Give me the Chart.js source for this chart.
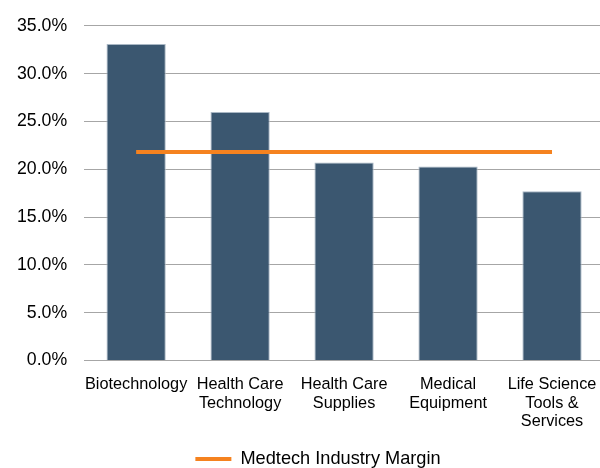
<!DOCTYPE html>
<html>
<head>
<meta charset="utf-8">
<script src="https://cdn.jsdelivr.net/npm/chart.js@4"></script>
<style>
  html, body { margin: 0; padding: 0; background: #fff; overflow: hidden; }
  #wrap { width: 604px; height: 468px; }
</style>
</head>
<body>
<div id="wrap"><canvas id="marginChart" width="604" height="468"></canvas></div>
<script>
const categories = ['Biotechnology', ['Health Care', 'Technology'], ['Health Care', 'Supplies'], ['Medical', 'Equipment'], ['Life Science', 'Tools &', 'Services']];
const sectorMargins = [33.1, 26.0, 20.7, 20.3, 17.7];
const medtechMargin = [21.8, 21.8, 21.8, 21.8, 21.8];
const yTicks = [0, 5, 10, 15, 20, 25, 30, 35];

// nudge the legend a bit right, like the original
const legendShift = {
  id: 'legendShift',
  afterLayout(chart) {
    chart.legend.left += 16;
    chart.legend.right += 16;
  }
};

const ctx = document.getElementById('marginChart').getContext('2d');
new Chart(ctx, {
  type: 'bar',
  data: {
    labels: categories,
    datasets: [{
      type: 'line',
      label: 'Medtech Industry Margin',
      data: medtechMargin,
      borderColor: '#F5821F',
      backgroundColor: '#F5821F',
      borderWidth: 4,
      pointRadius: 0,
      order: 0
    }, {
      label: 'Sector',
      data: sectorMargins,
      backgroundColor: '#3B5770',
      borderColor: '#A9B7C4',
      borderWidth: 1,
      barPercentage: 0.57,
      categoryPercentage: 1,
      order: 1
    }]
  },
  options: {
    responsive: false,
    animation: false,
    layout: { padding: { top: 10, left: 0, right: 0, bottom: -10 } },
    plugins: {
      tooltip: { enabled: false },
      legend: {
        position: 'bottom',
        labels: {
          filter: item => item.datasetIndex === 0,
          usePointStyle: true,
          pointStyle: 'line',
          pointStyleWidth: 36,
          boxWidth: 36,
          color: '#000',
          font: { family: 'Liberation Sans, Arial, sans-serif', size: 18.2 },
          padding: 12
        }
      }
    },
    scales: {
      x: {
        grid: { display: false },
        border: { display: false },
        ticks: {
          color: '#000',
          maxRotation: 0,
          autoSkip: false,
          padding: 7,
          font: { family: 'Liberation Sans, Arial, sans-serif', size: 16.3, lineHeight: 1.13 }
        }
      },
      y: {
        min: 0,
        max: 35,
        afterBuildTicks: axis => { axis.ticks = yTicks.map(v => ({ value: v })); },
        grid: { color: '#A6A6A6', lineWidth: 1, drawTicks: false },
        border: { display: false },
        ticks: {
          color: '#000',
          padding: 17,
          font: { family: 'Liberation Sans, Arial, sans-serif', size: 17.7, lineHeight: 1 },
          callback: v => v.toFixed(1) + '%'
        }
      }
    }
  },
  plugins: [legendShift]
});
</script>
</body>
</html>
